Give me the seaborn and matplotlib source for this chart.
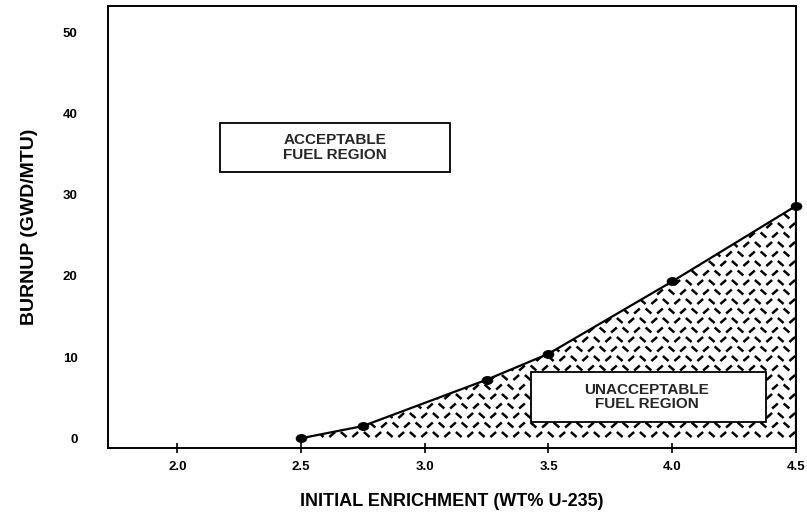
import numpy as np
import pandas as pd
import matplotlib
matplotlib.use("Agg")
import matplotlib.pyplot as plt
import seaborn as sns
from matplotlib.patches import Rectangle, Polygon
from matplotlib.collections import LineCollection
from matplotlib.path import Path
from matplotlib.transforms import Affine2D

# ---- data ----
enrichment = [2.5, 2.75, 3.25, 3.5, 4.0, 4.5]
burnup = [0.0, 1.5, 7.2, 10.4, 19.3, 28.6]
x_ticks = [2.0, 2.5, 3.0, 3.5, 4.0, 4.5]
x_tick_labels = ["2.0", "2.5", "3.0", "3.5", "4.0", "4.5"]
y_ticks = [0, 10, 20, 30, 40, 50]
y_tick_labels = ["0", "10", "20", "30", "40", "50"]
xlabel = "INITIAL ENRICHMENT (WT% U-235)"
ylabel = "BURNUP (GWD/MTU)"
label_ok = "ACCEPTABLE\nFUEL REGION"
label_bad = "UNACCEPTABLE\nFUEL REGION"

df = pd.DataFrame({"enrichment": enrichment, "burnup": burnup})

sns.set_theme(style="white")
plt.rcParams["font.family"] = ["Liberation Sans", "DejaVu Sans"]

fig = plt.figure(figsize=(8.07, 5.23), dpi=100)
ax = fig.add_axes([0.1338, 0.1434, 0.8525, 0.845])
ax.set_xlim(1.72, 4.5)
ax.set_ylim(-1.2, 53.2)

# hatched region under curve
poly_pts = list(zip(enrichment, burnup)) + [(enrichment[-1], 0.0), (enrichment[0], 0.0)]
poly = Polygon(poly_pts, closed=True, facecolor="white", edgecolor="none", zorder=1)
ax.add_patch(poly)

# diamond-plate texture (style only), built in pixel space and clipped to polygon
fig.canvas.draw()
trans = ax.transData
inv = trans.inverted()
(x0p, y0p) = trans.transform((1.72, -1.2))
(x1p, y1p) = trans.transform((4.5, 53.2))
segs = []
sx, sy, L = 11.5, 9.5, 3.8
j = 0
yy = y0p + 4
while yy < y1p:
    i = 0
    xx = x0p + (sx / 2 if j % 2 else 0)
    while xx < x1p:
        if (i + j) % 2 == 0:
            d = np.array([L * 0.75, L * 0.66])
        else:
            d = np.array([L * 0.75, -L * 0.66])
        c = np.array([xx, yy])
        segs.append(inv.transform([c - d, c + d]))
        xx += sx
        i += 1
    yy += sy
    j += 1
lc = LineCollection(segs, colors="black", linewidths=1.8, zorder=2)
ax.add_collection(lc)
lc.set_clip_path(poly)

ellipse = Path(Affine2D().scale(1.35, 1.0).transform(Path.unit_circle().vertices),
               Path.unit_circle().codes)

sns.lineplot(data=df, x="enrichment", y="burnup", color="black", linewidth=1.6,
             ax=ax, zorder=4, sort=True)
ax.plot([enrichment[-1], enrichment[-1]], [burnup[-1], 0], color="black", lw=1.6, zorder=4)
sns.scatterplot(data=df, x="enrichment", y="burnup", color="black", s=60,
                marker=ellipse, edgecolor="black", ax=ax, zorder=5, clip_on=False)

# label boxes
ax.add_patch(Rectangle((0.163, 0.624), 0.334, 0.111, transform=ax.transAxes,
                       facecolor="white", edgecolor="black", lw=1.3, zorder=6))
ax.text(0.330, 0.680, label_ok, transform=ax.transAxes, ha="center", va="center",
        fontsize=11, fontweight="bold", zorder=7, linespacing=1.05)
ax.add_patch(Rectangle((0.615, 0.059), 0.342, 0.113, transform=ax.transAxes,
                       facecolor="white", edgecolor="black", lw=1.3, zorder=6))
ax.text(0.783, 0.115, label_bad, transform=ax.transAxes, ha="center", va="center",
        fontsize=11, fontweight="bold", zorder=7, linespacing=1.05)

ax.set_xticks(x_ticks)
ax.set_xticklabels(x_tick_labels, fontsize=9.5, fontweight="bold")
ax.set_yticks(y_ticks)
ax.set_yticklabels(y_tick_labels, fontsize=9.5, fontweight="bold")
ax.tick_params(axis="x", bottom=True, direction="inout", length=7, width=1.2,
               pad=6, colors="black")
ax.tick_params(axis="y", left=False, length=0, pad=22, colors="black")
for s in ax.spines.values():
    s.set_color("black")
    s.set_linewidth(1.4)

ax.set_xlabel(xlabel, fontsize=13, fontweight="bold", labelpad=14, color="black")
ax.set_ylabel(ylabel, fontsize=14, fontweight="bold", labelpad=18, color="black")

fig.savefig("out.png", dpi=100)
